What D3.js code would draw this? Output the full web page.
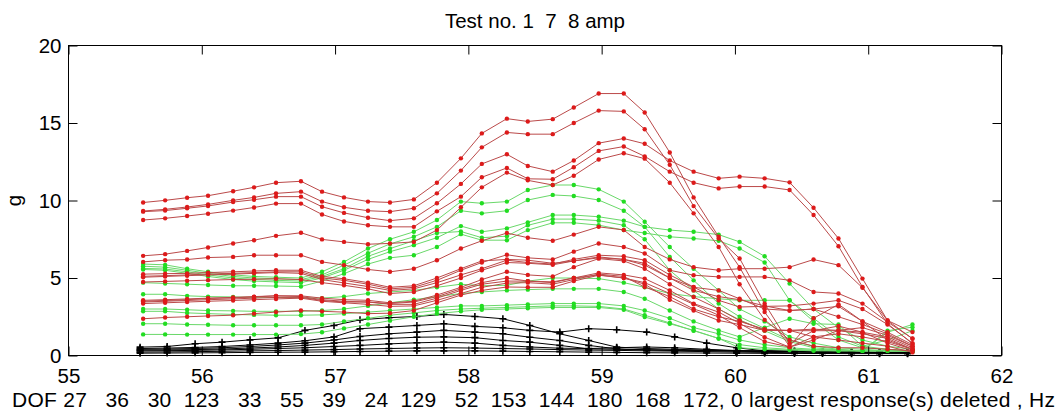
<!DOCTYPE html>
<html>
<head>
<meta charset="utf-8">
<script src="https://cdn.jsdelivr.net/npm/d3@7/dist/d3.min.js"></script>
<style>
  body { margin: 0; background: #fff; }
  text { font-family: "Liberation Sans", Arial, sans-serif; fill: #000; }
</style>
</head>
<body>
<script>
// frequencies (Hz) of the red / green curves
var freq = [55.560,55.725,55.890,56.047,56.235,56.392,56.557,56.744,56.902,57.067,57.247,57.412,57.591,57.764,57.944,58.101,58.289,58.446,58.633,58.791,58.978,59.166,59.323,59.511,59.690,59.878,60.035,60.223,60.410,60.590,60.777,60.957,61.145,61.332];
// frequencies (Hz) of the black curves
var freqBlack = [55.537,55.740,55.950,56.152,56.362,56.572,56.774,56.992,57.187,57.404,57.614,57.816,58.049,58.259,58.461,58.686,58.903,59.113,59.338,59.548,59.788,60.013,60.223,60.447,60.657,60.875,61.085,61.295];

var redLines = [
  [9.87,10.01,10.18,10.31,10.60,10.85,11.15,11.24,10.57,10.20,9.93,9.87,10.07,11.15,12.72,14.33,15.28,15.10,15.25,16.00,16.90,16.90,15.68,13.10,10.20,7.66,5.70,2.80,0.60,2.40,3.30,2.20,1.00,0.40],
  [9.32,9.43,9.58,9.75,10.01,10.20,10.46,10.57,9.93,9.56,9.34,9.28,9.50,10.46,11.93,13.43,14.39,14.28,14.28,15.00,15.80,15.75,14.60,12.30,9.64,7.55,6.26,3.35,0.76,1.60,1.90,1.50,0.80,0.30],
  [9.28,9.35,9.50,9.65,9.90,10.05,10.25,10.25,9.60,9.20,8.89,8.70,8.85,9.82,11.07,12.36,12.98,12.23,11.86,12.58,13.70,14.00,13.66,12.58,11.86,11.43,11.54,11.43,11.17,9.53,7.55,4.96,2.26,1.08],
  [8.74,8.85,9.00,9.15,9.35,9.55,9.80,9.80,9.10,8.65,8.40,8.30,8.30,9.30,10.25,11.50,12.10,11.40,11.37,12.15,13.20,13.48,12.85,11.86,11.15,10.78,10.90,10.90,10.68,9.06,7.05,4.42,2.05,0.76],
  [6.43,6.54,6.75,6.97,7.23,7.44,7.72,7.92,7.49,7.33,7.18,7.23,7.33,8.09,9.56,10.85,11.80,11.30,11.00,11.60,12.65,13.05,12.70,11.15,9.17,7.00,4.60,2.30,1.00,0.60,0.50,0.50,0.40,0.30],
  [6.04,6.15,6.19,6.32,6.36,6.47,6.47,6.47,6.04,5.83,5.55,5.40,5.60,6.15,6.90,7.40,7.90,7.60,7.40,7.80,8.30,8.10,7.00,6.20,5.70,5.50,5.60,5.60,5.70,6.19,5.83,4.37,2.26,1.51],
  [5.11,5.15,5.20,5.25,5.30,5.35,5.40,5.40,5.00,4.85,4.60,4.30,4.40,4.85,5.50,6.00,6.50,6.30,6.20,6.70,7.23,7.00,6.58,5.50,5.18,5.07,5.07,5.07,4.85,4.10,4.00,3.35,2.16,1.10],
  [5.05,5.10,5.15,5.20,5.25,5.30,5.35,5.30,4.90,4.68,4.45,4.20,4.30,4.70,5.20,5.60,6.15,6.00,5.90,6.20,6.47,6.40,6.15,5.20,4.42,3.56,3.13,3.17,3.20,3.35,3.56,3.00,2.00,0.80],
  [4.74,4.78,4.82,4.86,4.90,4.92,4.95,4.90,4.70,4.53,4.30,4.00,4.10,4.50,5.00,5.50,6.00,5.95,5.85,6.10,6.36,6.20,5.95,5.00,4.20,3.80,3.60,3.20,2.90,3.00,2.50,2.00,1.40,0.60],
  [3.56,3.60,3.65,3.70,3.75,3.80,3.85,3.85,3.70,3.60,3.56,3.40,3.50,3.90,4.40,4.90,5.40,5.20,5.10,5.70,6.25,6.10,5.60,4.60,3.77,3.00,2.26,1.62,1.62,1.70,1.62,1.50,1.20,0.50],
  [3.45,3.50,3.55,3.60,3.65,3.70,3.75,3.75,3.55,3.45,3.45,3.30,3.30,3.70,4.20,4.60,4.80,4.80,4.70,5.00,5.33,5.20,4.96,4.20,3.35,2.80,2.07,1.18,0.54,1.20,1.40,1.20,0.90,0.40],
  [3.35,3.40,3.45,3.50,3.55,3.60,3.65,3.70,3.50,3.40,3.30,3.17,3.20,3.56,4.00,4.40,4.67,4.70,4.60,4.90,5.25,5.10,4.42,3.80,3.00,2.50,2.20,1.70,1.60,1.60,1.60,1.40,1.10,0.40],
  [2.37,2.45,2.50,2.55,2.60,2.70,2.80,2.90,2.85,2.80,2.70,2.73,2.90,3.40,3.90,4.20,4.42,4.40,4.40,4.80,5.18,5.00,4.60,3.60,2.90,2.26,2.00,1.62,1.62,1.20,1.00,0.80,0.60,0.20],
  [5.25,5.28,5.30,5.35,5.40,5.45,5.50,5.50,5.10,4.95,4.70,4.40,4.50,5.00,5.60,6.10,6.20,6.15,5.95,6.10,6.30,6.20,5.83,5.00,4.40,4.20,3.66,3.00,2.90,3.00,3.17,2.20,1.50,0.70],
  [3.50,3.55,3.60,3.68,3.72,3.78,3.85,3.80,3.60,3.50,3.45,3.35,3.45,3.80,4.30,4.70,5.00,4.80,4.75,5.00,5.20,5.00,4.70,4.00,3.30,2.60,1.80,0.90,0.54,1.00,1.62,1.80,1.30,0.60]
];

var greenLines = [
  [5.90,5.85,5.60,5.40,5.20,5.10,5.05,5.00,5.40,6.04,6.90,7.50,7.98,8.74,9.93,9.82,9.93,10.68,11.00,11.00,10.72,9.93,8.63,7.00,5.60,4.20,3.00,2.20,1.20,0.80,0.50,0.40,0.30,0.30],
  [5.76,5.70,5.50,5.30,5.10,5.00,4.95,4.90,5.20,5.83,6.60,7.20,7.66,8.30,9.34,9.17,9.34,10.03,10.36,10.29,10.03,9.34,8.30,6.36,4.85,3.35,2.50,1.75,1.00,0.60,0.40,0.30,0.30,0.25],
  [5.55,5.50,5.30,5.10,4.90,4.80,4.75,4.70,5.00,5.50,6.20,6.70,7.12,7.60,8.35,7.98,8.20,8.59,9.06,9.06,8.95,8.70,8.30,8.09,7.98,7.80,7.33,6.40,4.64,3.00,1.80,1.00,0.60,0.40],
  [4.70,4.65,4.60,4.55,4.50,4.50,4.48,4.45,4.80,5.28,5.90,6.30,6.47,7.00,7.83,7.44,7.44,8.09,8.56,8.56,8.41,8.09,7.90,7.66,7.55,7.40,6.90,6.00,3.56,2.40,1.20,0.60,0.40,0.30],
  [5.62,5.58,5.40,5.20,5.00,4.90,4.85,4.80,5.10,5.60,6.40,6.90,7.40,7.90,8.00,7.60,7.70,8.40,8.80,8.80,8.70,8.40,7.50,5.50,4.20,3.00,2.30,1.60,0.90,0.50,0.35,0.30,0.30,0.25],
  [3.95,3.95,3.85,3.80,3.78,3.75,3.75,3.72,3.70,3.80,4.00,4.10,4.20,4.40,4.60,4.50,4.53,4.80,5.00,5.00,4.96,4.70,4.40,4.00,3.80,3.66,3.56,3.56,3.56,2.20,1.00,0.50,0.40,0.30],
  [3.00,3.00,2.95,2.90,2.88,2.85,2.85,2.85,2.90,3.00,3.20,3.40,3.60,3.80,4.00,4.10,4.20,4.25,4.30,4.30,4.30,4.10,3.66,2.90,2.20,1.62,1.20,1.80,2.37,2.05,2.00,0.60,1.00,1.60],
  [2.85,2.85,2.75,2.70,2.65,2.62,2.60,2.60,2.62,2.70,2.80,2.90,3.00,3.10,3.20,3.20,3.25,3.30,3.35,3.35,3.35,3.20,2.90,2.40,1.80,1.40,1.00,0.70,0.50,0.40,0.35,0.30,0.30,0.30],
  [2.05,2.05,2.00,1.98,1.95,1.95,1.95,1.95,2.00,2.20,2.40,2.60,2.75,2.90,3.00,3.05,3.10,3.15,3.20,3.20,3.17,3.00,2.60,2.10,1.60,1.10,0.70,0.50,0.40,0.35,0.30,0.30,1.60,1.83],
  [1.36,1.36,1.35,1.35,1.35,1.35,1.35,1.38,1.50,1.75,2.00,2.25,2.50,2.70,2.85,2.95,3.00,3.05,3.10,3.10,3.10,2.95,2.48,2.05,1.62,1.10,0.50,0.40,0.35,0.30,0.30,0.30,1.50,2.00]
];

var blackLines = [
  [0.54,0.58,0.76,0.86,1.01,1.14,1.62,1.94,2.30,2.44,2.52,2.65,2.52,2.37,1.94,1.40,0.97,0.54,0.45,0.40,0.35,0.30,0.30,0.25,0.25,0.20,0.20,0.20],
  [0.45,0.48,0.52,0.58,0.68,0.80,0.95,1.20,1.73,1.83,1.94,2.05,1.88,1.79,1.62,1.51,1.73,1.66,1.51,1.20,0.80,0.50,0.30,0.30,0.25,0.25,0.20,0.20],
  [0.40,0.42,0.45,0.50,0.58,0.68,0.80,1.00,1.23,1.40,1.51,1.62,1.51,1.40,1.18,0.97,0.65,0.43,0.35,0.32,0.30,0.28,0.25,0.25,0.22,0.20,0.20,0.20],
  [0.35,0.36,0.38,0.42,0.48,0.55,0.65,0.80,0.97,1.10,1.18,1.20,1.15,0.97,0.86,0.65,0.43,0.40,0.38,0.35,0.32,0.30,0.28,0.25,0.22,0.20,0.20,0.18],
  [0.30,0.31,0.33,0.36,0.40,0.45,0.50,0.58,0.65,0.75,0.82,0.86,0.80,0.65,0.55,0.47,0.45,0.50,0.55,0.50,0.40,0.32,0.28,0.25,0.22,0.20,0.18,0.18],
  [0.22,0.23,0.25,0.27,0.30,0.32,0.35,0.38,0.42,0.45,0.48,0.50,0.48,0.45,0.42,0.38,0.35,0.33,0.30,0.28,0.25,0.22,0.20,0.18,0.17,0.16,0.15,0.15],
  [0.15,0.16,0.17,0.18,0.20,0.21,0.22,0.24,0.26,0.28,0.30,0.30,0.30,0.28,0.26,0.24,0.22,0.20,0.18,0.17,0.16,0.15,0.14,0.13,0.13,0.12,0.12,0.12]
];

var xTicks = [55, 56, 57, 58, 59, 60, 61, 62];
var yTicks = [0, 5, 10, 15, 20];
var titleText = "Test no. 1  7  8 amp";
var xLabelText = "DOF 27   36   30  123   33   55   39   24  129   52  153  144  180  168  172, 0 largest response(s) deleted , Hz";
var yLabelText = "g";

// keep the runs of blanks that matlab's num2str leaves
var keepBlanks = (s) => s.replace(/ /g, "\u00a0");

// size of the page and of the axes box
var W = 1061, H = 414;
var margin = { top: 45.5, right: 59.5, bottom: 58.5, left: 68.5 },
    width = W - margin.left - margin.right,
    height = H - margin.top - margin.bottom;

var svg = d3.select("body").append("svg")
    .attr("width", W)
    .attr("height", H)
    .style("display", "block");

svg.append("rect").attr("width", W).attr("height", H).attr("fill", "#fff");

var g = svg.append("g")
    .attr("transform", `translate(${margin.left}, ${margin.top})`);

var x = d3.scaleLinear().domain([55, 62]).range([0, width]);
var y = d3.scaleLinear().domain([0, 20]).range([height, 0]);

// curves
var plot = g.append("g");

function drawSet(lines, xs, lineColor, markColor, plus) {
    var line = d3.line()
        .x((d, i) => x(xs[i]))
        .y((d) => y(d));
    lines.forEach((vals) => {
        plot.append("path")
            .datum(vals)
            .attr("fill", "none")
            .attr("stroke", lineColor)
            .attr("stroke-width", 1)
            .attr("d", line);
        var pts = plot.append("g").selectAll(null).data(vals).enter();
        if (plus) {
            pts.append("path")
                .attr("transform", (d, i) => `translate(${x(xs[i])}, ${y(d)})`)
                .attr("d", "M-3.5,0H3.5M0,-3.5V3.5")
                .attr("stroke", markColor)
                .attr("stroke-width", 1.6);
        } else {
            pts.append("circle")
                .attr("cx", (d, i) => x(xs[i]))
                .attr("cy", (d) => y(d))
                .attr("r", 2.2)
                .attr("fill", markColor);
        }
    });
}

drawSet(blackLines, freqBlack, "#000", "#000", true);
drawSet(greenLines, freq, "#6ad86a", "#22dd22", false);
drawSet(redLines, freq, "#bb4a4a", "#dd1a1a", false);

// axes, ticks pointing inwards like matlab
var fs = "20.5px";
var xAxis = g.append("g")
    .attr("transform", `translate(0, ${height})`)
    .call(d3.axisBottom(x).tickValues(xTicks).tickSize(-9).tickPadding(13).tickFormat(d3.format("d")));
var xTop = g.append("g")
    .call(d3.axisTop(x).tickValues(xTicks).tickSize(-9).tickFormat(""));
var yAxis = g.append("g")
    .call(d3.axisLeft(y).tickValues(yTicks).tickSize(-9).tickPadding(7).tickFormat(d3.format("d")));
var yRight = g.append("g")
    .attr("transform", `translate(${width}, 0)`)
    .call(d3.axisRight(y).tickValues(yTicks).tickSize(-9).tickFormat(""));

[xAxis, xTop, yAxis, yRight].forEach((a) => {
    a.select(".domain").remove();
    a.selectAll("line").attr("stroke", "#000");
    a.selectAll("text").style("font-size", fs).attr("fill", "#000");
});

g.append("rect")
    .attr("width", width)
    .attr("height", height)
    .attr("fill", "none")
    .attr("stroke", "#000")
    .attr("stroke-width", 1);

// title and labels
svg.append("text")
    .attr("x", margin.left + width / 2)
    .attr("y", 28)
    .attr("text-anchor", "middle")
    .style("font-size", fs)
    .text(keepBlanks(titleText));

svg.append("text")
    .attr("x", 12)
    .attr("y", 406.5)
    .attr("textLength", 1043)
    .attr("lengthAdjust", "spacing")
    .style("font-size", "21px")
    .text(keepBlanks(xLabelText));

svg.append("text")
    .attr("transform", `translate(21, ${margin.top + height / 2}) rotate(-90)`)
    .attr("text-anchor", "middle")
    .style("font-size", fs)
    .text(yLabelText);
</script>
</body>
</html>
